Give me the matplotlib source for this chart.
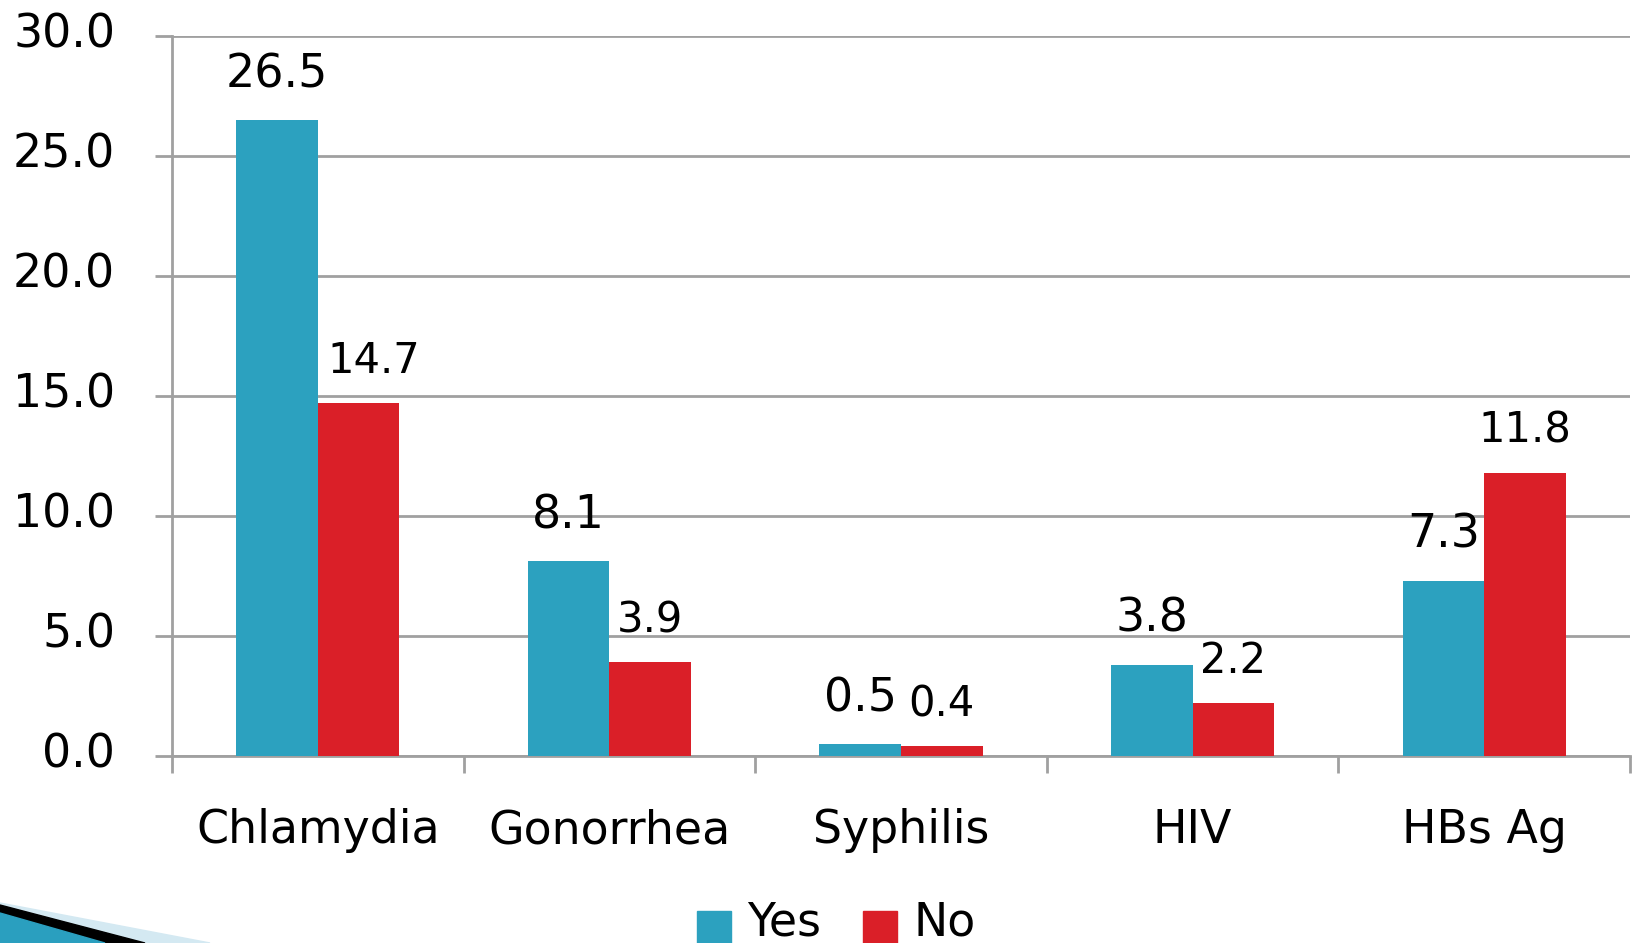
import numpy as np
import matplotlib; matplotlib.use("Agg")
import matplotlib.pyplot as plt
from matplotlib.patches import Rectangle, Polygon
from matplotlib.transforms import ScaledTranslation

categories = ["Chlamydia", "Gonorrhea", "Syphilis", "HIV", "HBs Ag"]
yes_vals = [26.5, 8.1, 0.5, 3.8, 7.3]
no_vals = [14.7, 3.9, 0.4, 2.2, 11.8]
yticks = [0, 5, 10, 15, 20, 25, 30]
series = ["Yes", "No"]

TEAL = "#2ca1bf"
RED = "#da1f28"
GRID = "#a0a0a0"
W, H = 1635, 943
plt.rcParams["font.family"] = ["DejaVu Sans"]

fig = plt.figure(figsize=(W / 100, H / 100), dpi=100)
ax = fig.add_axes([172 / W, 1 - 755.7 / H, (1630 - 172) / W, (755.7 - 35.7) / H])

x = np.arange(len(categories))
bw = 0.28
b1 = ax.bar(x - bw / 2, yes_vals, bw, color=TEAL, zorder=3)
b2 = ax.bar(x + bw / 2, no_vals, bw, color=RED, zorder=3)

for rect, v in zip(b1, yes_vals):
    ax.annotate(f"{v:.1f}", (rect.get_x() + rect.get_width() / 2, v),
                xytext=(0, 23.5), textcoords="offset points",
                ha="center", va="baseline", fontsize=33)
# the first "No" label sits a bit to the right in the original
no_dx = [11, 0, 0, 0, 0]
for rect, v, dx in zip(b2, no_vals, no_dx):
    ax.annotate(f"{v:.1f}", (rect.get_x() + rect.get_width() / 2, v),
                xytext=(dx, 21.5), textcoords="offset points",
                ha="center", va="baseline", fontsize=30)

ax.set_xlim(-0.5, len(categories) - 0.5)
ax.set_ylim(0, 30)
ax.set_yticks(yticks)
ax.set_yticklabels([f"{t:.1f}" for t in yticks], fontsize=33)
ax.yaxis.grid(True, color=GRID, linewidth=2, zorder=0)
ax.tick_params(axis="y", length=12, width=2, color=GRID, pad=29)
up = ScaledTranslation(0, 6 / 100, fig.dpi_scale_trans)
for lab in ax.get_yticklabels():
    lab.set_transform(lab.get_transform() + up)

# category labels between boundary ticks
ax.set_xticks(np.arange(len(categories) + 1) - 0.5)
ax.set_xticklabels([])
ax.set_xticks(x, minor=True)
ax.set_xticklabels(categories, minor=True, fontsize=33)
ax.tick_params(axis="x", which="major", length=12, width=2, color=GRID, direction="out")
ax.tick_params(axis="x", which="minor", length=0, pad=38)

for s in ["top", "right"]:
    ax.spines[s].set_visible(False)
for s in ["left", "bottom"]:
    ax.spines[s].set_color(GRID)
    ax.spines[s].set_linewidth(2)

# legend, partly cut at the bottom edge like the original
for col, lab, x0 in [(TEAL, series[0], 697), (RED, series[1], 863)]:
    fig.add_artist(Rectangle((x0 / W, 0), 34 / W, (943 - 911) / H,
                             transform=fig.transFigure, color=col))
    fig.text((x0 + 50) / W, 1 - 935 / H, lab, fontsize=33, va="baseline", ha="left")

# decorative swoosh bottom-left
def px(pts):
    return [(a / W, 1 - b / H) for a, b in pts]
fig.add_artist(Polygon(px([(0, 903), (210, 943), (0, 943)]), closed=True,
                       transform=fig.transFigure, color="#d4e9f2"))
fig.add_artist(Polygon(px([(0, 905), (145, 943), (0, 943)]), closed=True,
                       transform=fig.transFigure, color="black"))
fig.add_artist(Polygon(px([(0, 913), (105, 943), (0, 943)]), closed=True,
                       transform=fig.transFigure, color="#2a9fbf"))

fig.savefig("out.png", dpi=100)
